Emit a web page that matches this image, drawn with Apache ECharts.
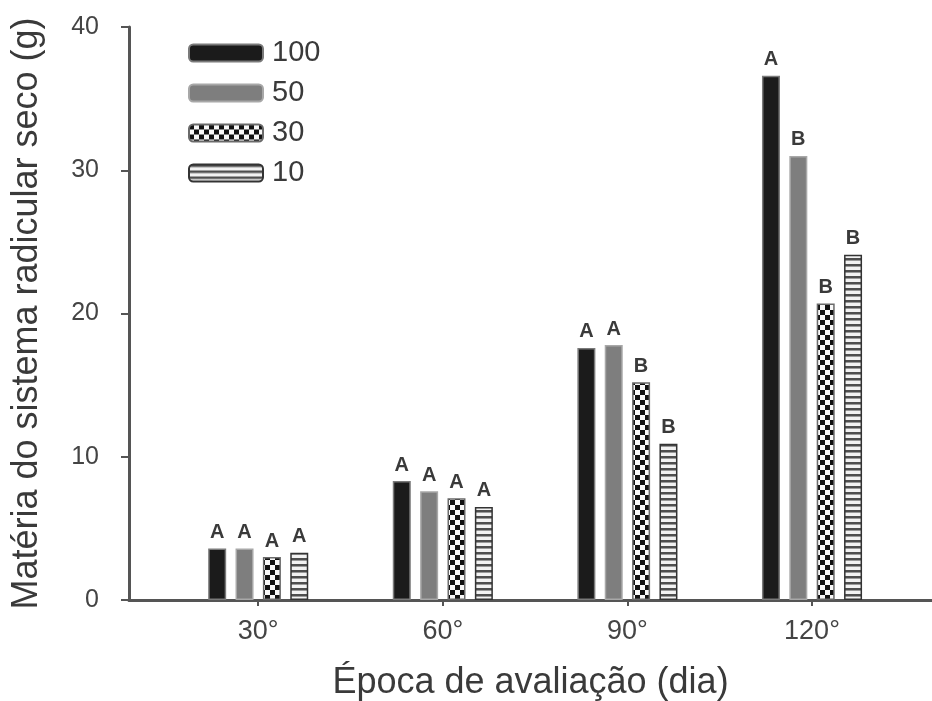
<!DOCTYPE html>
<html>
<head>
<meta charset="utf-8">
<script src="https://cdn.jsdelivr.net/npm/echarts@6/dist/echarts.min.js"></script>
<style>
  html, body { margin: 0; padding: 0; background: #fff; }
  #chart { width: 932px; height: 701px; }
</style>
</head>
<body>
<div id="chart"></div>
<script>
// Evaluation times (days after planting)
const categories = ['30°', '60°', '90°', '120°'];
const positions = [1, 2, 3, 4];
// Series names (treatment levels)
const seriesNames = ['100', '50', '30', '10'];
// Dry root mass (g) per treatment
const values100 = [3.6, 8.3, 17.6, 36.6];
const values50 = [3.6, 7.6, 17.8, 31.0];
const values30 = [3.0, 7.1, 15.2, 20.7];
const values10 = [3.3, 6.5, 10.9, 24.1];
// Significance letters above each bar
const letters100 = ['A', 'A', 'A', 'A'];
const letters50 = ['A', 'A', 'A', 'B'];
const letters30 = ['A', 'A', 'B', 'B'];
const letters10 = ['A', 'A', 'B', 'B'];
// Y-axis ticks
const yTicks = [0, 10, 20, 30, 40];

const FONT = 'Liberation Sans, Arial, sans-serif';

function makeChecker() {
  const c = document.createElement('canvas');
  c.width = 10; c.height = 10;
  const g = c.getContext('2d');
  g.fillStyle = '#f8f8f8'; g.fillRect(0, 0, 10, 10);
  g.fillStyle = '#111';
  g.fillRect(0, 0, 5, 5);
  g.fillRect(5, 5, 5, 5);
  return c;
}
function makeStripes() {
  const c = document.createElement('canvas');
  c.width = 6; c.height = 6;
  const g = c.getContext('2d');
  g.fillStyle = '#f2f2f2'; g.fillRect(0, 0, 6, 6);
  g.fillStyle = '#4e4e4e'; g.fillRect(0, 0, 6, 2);
  g.fillStyle = '#9a9a9a'; g.fillRect(0, 2, 6, 1);
  return c;
}

const styles = [
  { color: '#1b1b1b', borderColor: '#7a7a7a', borderWidth: 1.5 },
  { color: '#7e7e7e', borderColor: '#a8a8a8', borderWidth: 1.5 },
  { color: { image: makeChecker(), repeat: 'repeat' }, borderColor: '#6a6a6a', borderWidth: 1.5 },
  { color: { image: makeStripes(), repeat: 'repeat' }, borderColor: '#333', borderWidth: 1.5 }
];
const allValues = [values100, values50, values30, values10];
const allLetters = [letters100, letters50, letters30, letters10];

const series = seriesNames.map((name, s) => ({
  name: name,
  type: 'bar',
  barWidth: 18,
  barGap: '52%',
  itemStyle: styles[s],
  data: positions.map((p, i) => [p, allValues[s][i]]),
  label: {
    show: true,
    position: 'top',
    distance: 6,
    formatter: (p) => allLetters[s][p.dataIndex],
    fontFamily: FONT,
    fontWeight: 'bold',
    fontSize: 20,
    color: '#3a3a3a'
  }
}));

const chart = echarts.init(document.getElementById('chart'), null, { renderer: 'canvas' });
chart.setOption({
  animation: false,
  backgroundColor: '#fff',
  grid: { left: 129, right: 0, top: 27, bottom: 101, containLabel: false, outerBoundsMode: 'none' },
  legend: {
    orient: 'vertical',
    left: 183,
    top: 33,
    itemWidth: 74,
    itemHeight: 17,
    itemGap: 10,
    data: seriesNames,
    textStyle: { fontFamily: FONT, fontSize: 29, color: '#3a3a3a', padding: [0, 0, 0, 4], lineHeight: 30 }
  },
  xAxis: {
    type: 'value',
    min: 0.3,
    max: 4.65,
    name: 'Época de avaliação (dia)',
    nameLocation: 'middle',
    nameGap: 65,
    nameTextStyle: { fontFamily: FONT, fontSize: 36, color: '#3a3a3a' },
    axisLine: { show: true, onZero: false, lineStyle: { color: '#555', width: 3 } },
    axisTick: { show: true, customValues: positions, length: 6, lineStyle: { color: '#555', width: 2 } },
    axisLabel: {
      customValues: positions,
      formatter: (v) => categories[positions.indexOf(v)],
      fontFamily: FONT, fontSize: 27, color: '#444', margin: 18
    },
    splitLine: { show: false }
  },
  yAxis: {
    type: 'value',
    min: yTicks[0],
    max: yTicks[yTicks.length - 1],
    interval: 10,
    name: 'Matéria do sistema radicular seco (g)',
    nameLocation: 'middle',
    nameGap: 84,
    nameTextStyle: { fontFamily: FONT, fontSize: 36, color: '#3a3a3a' },
    axisLine: { show: true, lineStyle: { color: '#555', width: 3 } },
    axisTick: { show: true, length: 8, lineStyle: { color: '#555', width: 2 } },
    axisLabel: { fontFamily: FONT, fontSize: 25, color: '#444', margin: 30 },
    splitLine: { show: false }
  },
  series: series
});
</script>
</body>
</html>
